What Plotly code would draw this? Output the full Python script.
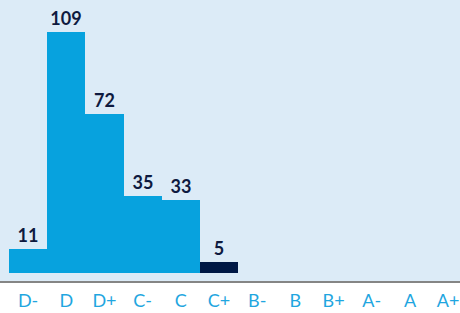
import plotly.graph_objects as go

grades = ["D-", "D", "D+", "C-", "C", "C+", "B-", "B", "B+", "A-", "A", "A+"]
counts = [11, 109, 72, 35, 33, 5, None, None, None, None, None, None]
bar_colors = ["#07A2DE", "#07A2DE", "#07A2DE", "#07A2DE", "#07A2DE", "#001845",
              "#07A2DE", "#07A2DE", "#07A2DE", "#07A2DE", "#07A2DE", "#07A2DE"]
labels = [str(v) if v is not None else "" for v in counts]

fig = go.Figure(go.Bar(
    x=grades, y=counts, marker=dict(color=bar_colors, line=dict(width=0)),
    text=labels, textposition="outside", cliponaxis=False,
    textfont=dict(family="Lato", size=18, color="#0E1A3F", weight="bold"),
))

fig.update_layout(
    width=460, height=313, autosize=False,
    margin=dict(l=0, r=0, t=0, b=32, pad=0),
    paper_bgcolor="white", plot_bgcolor="#DCEBF7",
    bargap=0, showlegend=False,
    xaxis=dict(range=[-0.736, 11.31], showgrid=False, zeroline=False,
               showline=True, linecolor="#858585", linewidth=1.5, automargin=False,
               ticks="", ticklabelstandoff=3,
               tickfont=dict(family="Lato", size=18, color="#1FA6E0")),
    yaxis=dict(range=[-3.62, 123.5], visible=False, showgrid=False, zeroline=False,
               automargin=False),
)

fig.write_html("out.html", config={"displayModeBar": False},
               post_script="document.body.style.margin='0';document.body.style.overflow='hidden';")
